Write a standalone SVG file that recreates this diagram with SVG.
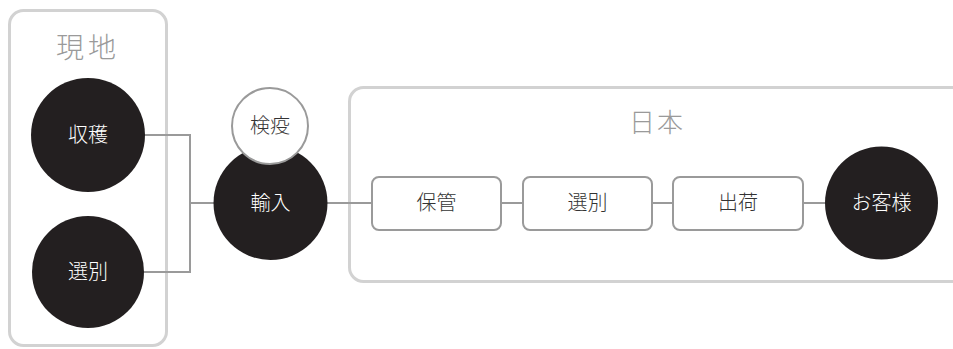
<svg xmlns="http://www.w3.org/2000/svg" width="953" height="349" viewBox="0 0 953 349">
<style>
.frame{fill:none;stroke:#d2d2d2;stroke-width:3}
.ftitle{font-family:"Noto Sans CJK JP","Noto Sans",sans-serif;font-weight:300;fill:#9a9a9a;text-anchor:middle}
.dark{fill:#231f20}
.wt{font-family:"Noto Sans CJK JP","Noto Sans",sans-serif;font-size:20px;font-weight:300;fill:#ffffff;text-anchor:middle}
.bt{font-family:"Noto Sans CJK JP","Noto Sans",sans-serif;font-size:20px;font-weight:300;fill:#333333;text-anchor:middle}
.box{fill:#ffffff;stroke:#9a9a9a;stroke-width:2}
.conn{fill:none;stroke:#9a9a9a;stroke-width:2}
</style>
<rect width="953" height="349" fill="#ffffff"/>
<g id="frame-genchi">
<rect class="frame" x="9.5" y="10.5" width="157" height="335" rx="14"/>
<text class="ftitle" x="88" y="58" font-size="28" letter-spacing="4">現地</text>
</g>
<g id="frame-nihon">
<rect class="frame" x="349.5" y="87.5" width="620" height="194" rx="14"/>
<text class="ftitle" x="657" y="132" font-size="26" letter-spacing="2">日本</text>
</g>
<g id="connectors">
<polyline class="conn" points="144,135 190,135 190,272 144,272"/>
<line class="conn" x1="190" y1="203" x2="214" y2="203"/>
<line class="conn" x1="327" y1="203" x2="372" y2="203"/>
<line class="conn" x1="501" y1="203" x2="523" y2="203"/>
<line class="conn" x1="652" y1="203" x2="673" y2="203"/>
<line class="conn" x1="803" y1="203" x2="826" y2="203"/>
</g>
<g id="shukaku">
<circle class="dark" cx="88" cy="135" r="57"/>
<text class="wt" x="88" y="142">収穫</text>
</g>
<g id="senbetsu-genchi">
<circle class="dark" cx="88" cy="272" r="56"/>
<text class="wt" x="88" y="279">選別</text>
</g>
<g id="yunyu">
<circle class="dark" cx="270.5" cy="203" r="57"/>
<text class="wt" x="270.5" y="210">輸入</text>
</g>
<g id="kenneki">
<circle cx="270" cy="126" r="38" fill="#ffffff" stroke="#9a9a9a" stroke-width="2"/>
<text class="bt" x="270" y="133">検疫</text>
</g>
<g id="hokan">
<rect class="box" x="372" y="177" width="129" height="53" rx="7"/>
<text class="bt" x="436.5" y="210">保管</text>
</g>
<g id="senbetsu-nihon">
<rect class="box" x="523" y="177" width="129" height="53" rx="7"/>
<text class="bt" x="587.5" y="210">選別</text>
</g>
<g id="shukka">
<rect class="box" x="673" y="177" width="130" height="53" rx="7"/>
<text class="bt" x="738" y="210">出荷</text>
</g>
<g id="okyakusama">
<circle class="dark" cx="881.5" cy="203" r="56.5"/>
<text class="wt" x="881.5" y="210">お客様</text>
</g>
</svg>
